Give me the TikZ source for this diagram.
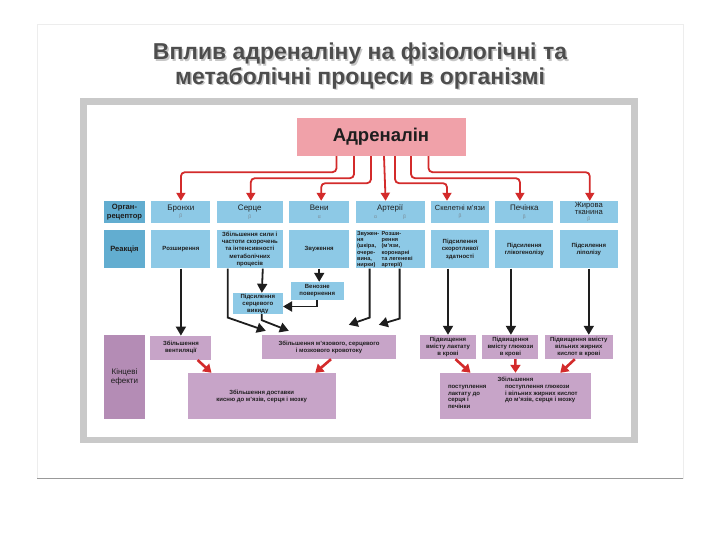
\documentclass[tikz,border=0pt]{standalone}
\usepackage{fontspec}
\setmainfont{Liberation Sans}
\usetikzlibrary{arrows.meta,positioning,calc}
\definecolor{cBlue}{HTML}{8DC9E6}
\definecolor{cBlueDk}{HTML}{62ADD0}
\definecolor{cPink}{HTML}{F0A1A9}
\definecolor{cPurp}{HTML}{C7A4C8}
\definecolor{cPurpDk}{HTML}{B48CB5}
\definecolor{cRed}{HTML}{D32B2B}
\definecolor{cFrame}{HTML}{C9C9C9}
\definecolor{cInk}{HTML}{1E1E1E}
\definecolor{cTitle}{HTML}{4D4D4D}
\definecolor{cGreek}{HTML}{7A8A95}
\newcommand{\fs}[2]{\fontsize{#1}{#2}\selectfont}
\newcommand{\rec}[1]{\\[-1.5pt]{\fs{5}{6}\color{cGreek}#1}}
\tikzset{
  box/.style    ={inner sep=0pt, align=center, text=cInk},
  organ/.style  ={box, fill=cBlue, minimum height=22pt, font=\fs{8}{9}},
  react/.style  ={box, fill=cBlue, minimum height=38pt, font=\bfseries\fs{6}{7.4}},
  mid/.style    ={box, fill=cBlue, font=\bfseries\fs{6}{7}},
  rowlab/.style ={box, fill=cBlueDk, minimum width=41pt, font=\bfseries\fs{7.6}{8.5}},
  effect/.style ={box, fill=cPurp, minimum height=24pt, font=\bfseries\fs{6}{7}},
  endlab/.style ={box, fill=cPurpDk, minimum width=41pt, font=\fs{8}{9}},
  hormone/.style={box, fill=cPink, font=\bfseries\fs{18.5}{20}},
  ttl/.style    ={align=center, inner sep=0pt, font=\bfseries\fs{23}{24.5}},
  rarrow/.style ={-{Triangle[length=8pt,width=9pt]}, line width=1.8pt, draw=cRed, rounded corners=4pt},
  barrow/.style ={-{Triangle[length=9pt,width=10pt]}, line width=1.8pt, draw=cInk},
  rshort/.style ={-{Triangle[length=8pt,width=10pt]}, line width=2.6pt, draw=cRed},
}
\begin{document}
\begin{tikzpicture}[x=1pt, y=-1pt, node distance=7pt and 6pt]
  \useasboundingbox (0,0) rectangle (720,540);
  % slide and frame
  \draw[black!7] (37,24) rectangle (683,478);
  \draw[black!40, line width=0.8pt] (37,478) -- (683,478);
  \fill[cFrame] (80,98) rectangle (638,443);
  \fill[white] (87,105) rectangle (631,437);
  % title
  \node[ttl, text=black!22] (shadow) at (361.5,67.5) {Вплив адреналіну на фізіологічні та\\метаболічні процеси в організмі};
  \node[ttl, text=cTitle] (title) at (360,66) {Вплив адреналіну на фізіологічні та\\метаболічні процеси в організмі};
  \node[hormone, minimum width=169pt, minimum height=38pt] (adr) at (381,137) {Адреналін};
  % organ row
  \node[rowlab, minimum height=22pt] (org) at (124.5,212) {Орган-\\рецептор};
  \node[organ, minimum width=59pt, right=of org] (bro) {Бронхи\rec{β}};
  \node[organ, minimum width=66pt, right=of bro] (ser) {Серце\rec{β}};
  \node[organ, minimum width=60pt, right=of ser] (ven) {Вени\rec{α}};
  \node[organ, minimum width=69pt, right=of ven] (art) {Артерії\rec{α\hspace{26pt}β}};
  \node[organ, minimum width=58pt, right=of art, font=\fs{7.4}{9}] (skm) {Скелетні м’язи\rec{β}};
  \node[organ, minimum width=58pt, right=of skm] (liv) {Печінка\rec{β}};
  \node[organ, minimum width=58pt, right=of liv, font=\fs{7.6}{7.6}] (fat) {Жирова\\тканина\rec{β}};
  % reaction row
  \node[rowlab, minimum height=38pt, below=of org] (rea) {Реакція};
  \node[react, minimum width=59pt, below=of bro] (rbro) {Розширення};
  \node[react, minimum width=66pt, below=of ser] (rser) {Збільшення сили і\\частоти скорочень\\та інтенсивності\\метаболічних\\процесів};
  \node[react, minimum width=60pt, below=of ven] (rven) {Звуження};
  \node[react, minimum width=69pt, below=of art] (rart) {};
  \node[box, font=\bfseries\fs{5.6}{6.3}, align=left, anchor=north west] (artn) at ([shift={(1.5,1)}]rart.north west) {Звужен-\\ня\\(шкіра,\\очере-\\вина,\\нирки)};
  \node[box, font=\bfseries\fs{5.6}{6.3}, align=left, anchor=north west] (artw) at ([shift={(26,1)}]rart.north west) {Розши-\\рення\\(м’язи,\\коронарні\\та легеневі\\артерії)};
  \node[react, minimum width=58pt, below=of skm] (rskm) {Підсилення\\скоротливої\\здатності};
  \node[react, minimum width=58pt, below=of liv] (rliv) {Підсилення\\глікогенолізу};
  \node[react, minimum width=58pt, below=of fat] (rfat) {Підсилення\\ліполізу};
  % intermediate boxes
  \node[mid, minimum width=50pt, minimum height=21pt] (out) at (257.8,303.5) {Підсилення\\серцевого\\викиду};
  \node[mid, minimum width=53pt, minimum height=18pt] (ret) at (317.3,291) {Венозне\\повернення};
  % end effects
  \node[endlab, minimum height=84pt] (fin) at (124.5,377) {Кінцеві\\ефекти};
  \node[effect, minimum width=61pt, below=67pt of rbro] (vent) {Збільшення\\вентиляції};
  \node[effect, minimum width=134pt] (flow) at (329,347) {Збільшення м’язового, серцевого\\і мозкового кровотоку};
  \node[effect, minimum width=148pt, minimum height=46pt] (oxy) at (261.7,396) {Збільшення доставки\\кисню до м’язів, серця і мозку};
  \node[effect, minimum width=56pt] (lac) at (448,347) {Підвищення\\вмісту лактату\\в крові};
  \node[effect, minimum width=56pt, right=of lac] (glu) {Підвищення\\вмісту глюкози\\в крові};
  \node[effect, minimum width=68pt, right=of glu] (ffa) {Підвищення вмісту\\вільних жирних\\кислот в крові};
  \node[effect, minimum width=151pt, minimum height=46pt] (sup) at (515.5,396) {};
  \node[box, font=\bfseries\fs{6}{7}, anchor=north] (supt) at ([shift={(0,4)}]sup.north) {Збільшення};
  \node[box, font=\bfseries\fs{6}{6.8}, align=left, anchor=north west] (supl) at ([shift={(8,12)}]sup.north west) {поступлення\\лактату до\\серця і\\печінки};
  \node[box, font=\bfseries\fs{6}{6.8}, align=left, anchor=north west] (supr) at ([shift={(65,12)}]sup.north west) {поступлення глюкози\\і вільних жирних кислот\\до м’язів, серця і мозку};
  % adrenaline to organs
  \draw[rarrow] ([xshift=-44.5pt]adr.south) -- ++(0,16) -| (bro.north);
  \draw[rarrow] ([xshift=-27pt]adr.south) -- ++(0,22) -| ([xshift=1pt]ser.north);
  \draw[rarrow] ([xshift=-10pt]adr.south) -- ++(0,27) -| ([xshift=2pt]ven.north);
  \draw[rarrow] ([xshift=3pt]adr.south) -- ([xshift=-4.5pt]art.north);
  \draw[rarrow] ([xshift=14pt]adr.south) -- ++(0,27) -| ([xshift=-13pt]skm.north);
  \draw[rarrow] ([xshift=30pt]adr.south) -- ++(0,22) -| ([xshift=-4.5pt]liv.north);
  \draw[rarrow] ([xshift=47.5pt]adr.south) -- ++(0,16) -| ([xshift=1pt]fat.north);
  % reactions to effects
  \draw[barrow] (rbro) -- (vent);
  \draw[barrow] ([xshift=13pt]rser.south) -- ([xshift=4pt]out.north);
  \draw[barrow] (rven.south) -- (rven.south |- ret.north);
  \draw[barrow] (ret.south) |- ([yshift=-3pt]out.east);
  \draw[barrow] ([xshift=-22pt]rser.south) -- ++(0,49) -- ([shift={(4,-4)}]flow.north west);
  \draw[barrow] ([xshift=4pt]out.south) -- ++(0,6) -- ([shift={(27,-4)}]flow.north west);
  \draw[barrow] ([xshift=-20.5pt]rart.south) -- ++(0,49) -- ([shift={(87,-10)}]flow.north west);
  \draw[barrow] ([xshift=9.5pt]rart.south) -- ++(0,50) -- ([shift={(117,-10)}]flow.north west);
  \draw[barrow] (rskm.south -| lac) -- (lac);
  \draw[barrow] ([xshift=0.5pt]rliv.south -| glu) -- ([xshift=0.5pt]glu.north);
  \draw[barrow] (rfat.south) -- (rfat.south |- ffa.north);
  % effects to final effects
  \draw[rshort] ([xshift=-14pt]vent.south east) -- ([xshift=24pt]oxy.north west);
  \draw[rshort] ([xshift=2pt]flow.south) -- ([xshift=-20.7pt]oxy.north east);
  \draw[rshort] ([xshift=7.5pt]lac.south) -- ([xshift=30.7pt]sup.north west);
  \draw[rshort] ([xshift=5pt]glu.south) -- (sup.north);
  \draw[rshort] ([xshift=-4pt]ffa.south) -- ([xshift=-31pt]sup.north east);
\end{tikzpicture}
\end{document}
